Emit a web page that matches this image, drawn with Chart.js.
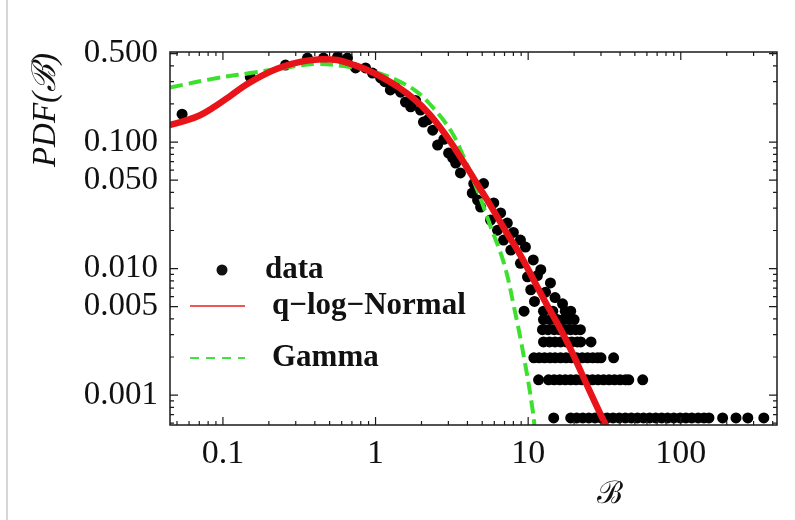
<html>
<head>
    <meta charset="utf-8">
    <title>PDF(B)</title>
    <script src="https://cdn.jsdelivr.net/npm/chart.js"></script>
    <style>
        body { margin: 0; background: #fff; }
        #wrap { position: relative; width: 795px; height: 520px; }
        #edge { position: absolute; left: 6px; top: 0; width: 2px; height: 520px; background: #d6d6d6; }
        #myChart { position: absolute; left: 0; top: 0; }
    </style>
</head>
<body>

<div id="wrap">
    <div id="edge"></div>
    <canvas id="myChart" width="795" height="520"></canvas>
</div>
<script>
    // histogram points
    var dataX = [0.054, 0.151, 0.257, 0.358, 0.456, 0.563, 0.655, 0.74, 0.86, 0.955,
        1.08, 1.15, 1.25, 1.35, 1.46, 1.57, 1.7, 1.83, 1.97, 2.06,
        2.2, 2.37, 2.55, 2.8, 3.01, 3.2, 3.35, 3.6, 4.4, 5.1,
        4.3, 4.66, 5.95, 4.88, 6.6, 5.67, 7.3, 6.3, 8.0, 6.9,
        8.9, 9.6, 7.7, 10.8, 8.9, 12.1, 9.9, 11.5, 14, 10.4,
        13, 15, 11, 16.8, 9.4, 12.6, 14.5, 17.5, 19,
        12.6, 14, 15.5, 17, 18.5, 20,
        12.4, 13.5, 14.8, 16, 17.5, 19, 20.5, 22,
        12.6, 13.8, 15, 16.3, 17.8, 19.3, 21, 22.1, 25.8,
        10.9, 11.8, 12.8, 13.9, 15, 16.3, 17.7, 19.2, 20.8, 22.6, 24.5, 26.5, 28.5, 30, 36.3,
        11.7, 13.6, 14.8, 16.1, 17.5, 19, 20.6, 22.4, 24.3, 26.4, 28.7, 31.2, 33.9, 36.8, 40, 43.5, 45.6, 56.3,
        14.7, 19, 20.8, 22.8, 25, 27.4, 30, 32.9, 36, 39.5, 43.3, 47.4, 52, 57, 62.5, 68.5, 75, 82, 90, 99,
        108, 118, 130, 142, 153, 188, 230, 275, 350];
    var dataY = [0.166, 0.327, 0.406, 0.461, 0.461, 0.47, 0.461, 0.385, 0.385, 0.351,
        0.321, 0.30, 0.258, 0.27, 0.248, 0.207, 0.19, 0.213, 0.179, 0.144,
        0.15, 0.124, 0.0947, 0.105, 0.0818, 0.075, 0.0683, 0.057, 0.047, 0.047,
        0.0395, 0.0348, 0.033, 0.0306, 0.0275, 0.0242, 0.0229, 0.0201, 0.0193, 0.0168,
        0.0168, 0.0148, 0.014, 0.0117, 0.011, 0.0098, 0.0086, 0.0088, 0.0077, 0.0068,
        0.0065, 0.0059, 0.0055, 0.00526, 0.0046, 0.0046, 0.0046, 0.0046, 0.0046,
        0.00395, 0.00395, 0.00395, 0.00395, 0.00395, 0.00395,
        0.00329, 0.00329, 0.00329, 0.00329, 0.00329, 0.00329, 0.00329, 0.00329,
        0.00263, 0.00263, 0.00263, 0.00263, 0.00263, 0.00263, 0.00263, 0.00263, 0.00263,
        0.00197, 0.00197, 0.00197, 0.00197, 0.00197, 0.00197, 0.00197, 0.00197, 0.00197, 0.00197, 0.00197, 0.00197, 0.00197, 0.00197, 0.00197,
        0.00132, 0.00132, 0.00132, 0.00132, 0.00132, 0.00132, 0.00132, 0.00132, 0.00132, 0.00132, 0.00132, 0.00132, 0.00132, 0.00132, 0.00132, 0.00132, 0.00132, 0.00132,
        0.00066, 0.00066, 0.00066, 0.00066, 0.00066, 0.00066, 0.00066, 0.00066, 0.00066, 0.00066, 0.00066, 0.00066, 0.00066, 0.00066, 0.00066, 0.00066, 0.00066, 0.00066, 0.00066, 0.00066,
        0.00066, 0.00066, 0.00066, 0.00066, 0.00066, 0.00066, 0.00066, 0.00066, 0.00066];

    // fitted curves
    var qlnX = [0.0447, 0.0562, 0.0708, 0.0891, 0.112, 0.141, 0.178, 0.224, 0.282, 0.355,
        0.447, 0.562, 0.708, 0.891, 1.12, 1.41, 1.78, 2.24, 2.82, 3.55,
        4.47, 5.62, 7.08, 8.91, 12.6, 17.8, 25.1, 31.6, 36.3];
    var qlnY = [0.136, 0.147, 0.163, 0.192, 0.232, 0.282, 0.332, 0.378, 0.415, 0.44,
        0.452, 0.445, 0.41, 0.37, 0.322, 0.272, 0.22, 0.168, 0.118, 0.078,
        0.05, 0.032, 0.02, 0.0127, 0.0058, 0.0027, 0.0011, 0.00061, 0.00045];
    var gammaX = [0.045, 0.092, 0.151, 0.25, 0.417, 0.685, 0.886, 1.13, 1.46, 1.88,
        2.4, 3.1, 3.61, 4.64, 5.68, 6.94, 8.07, 9.38, 10.7, 11.3];
    var gammaY = [0.27, 0.321, 0.351, 0.385, 0.414, 0.392, 0.37, 0.34, 0.298, 0.248,
        0.185, 0.124, 0.0865, 0.0418, 0.0214, 0.011, 0.005, 0.002, 0.00076, 0.0004];

    var xTicks = [0.1, 1, 10, 100];
    var xTickLabels = ['0.1', '1', '10', '100'];
    var yTicks = [0.5, 0.1, 0.05, 0.01, 0.005, 0.001];
    var yTickLabels = ['0.500', '0.100', '0.050', '0.010', '0.005', '0.001'];
    var xMin = 0.045, xMax = 427, yMin = 0.00058, yMax = 0.515;

    function pairs(xs, ys) {
        return xs.map(function (x, i) { return {x: x, y: ys[i]}; });
    }

    function allTicks(min, max) {
        var out = [];
        for (var e = -5; e <= 4; e++) {
            for (var k = 1; k <= 9; k++) {
                var v = k * Math.pow(10, e);
                if (v > min && v < max) out.push(v);
            }
        }
        return out;
    }

    function findTick(v, list) {
        for (var i = 0; i < list.length; i++) {
            if (Math.abs(Math.log10(v / list[i])) < 1e-6) return i;
        }
        return -1;
    }

    function labelFor(v, list, labels) {
        var i = findTick(v, list);
        return i < 0 ? '' : labels[i];
    }

    var serif = '"Liberation Serif", "Times New Roman", serif';

    const framePlugin = {
        id: 'frame',
        afterDatasetsDraw(chart) {
            var ctx = chart.ctx, a = chart.chartArea;
            var xs = chart.scales.x, ys = chart.scales.y;
            ctx.save();
            ctx.strokeStyle = '#1a1a1a';
            ctx.lineWidth = 1.5;
            ctx.strokeRect(a.left, a.top, a.right - a.left, a.bottom - a.top);
            ctx.lineWidth = 1.2;
            ctx.beginPath();
            xs.ticks.forEach(function (t) {
                var px = xs.getPixelForValue(t.value);
                var len = findTick(t.value, xTicks) >= 0 ? 8 : 4;
                ctx.moveTo(px, a.bottom); ctx.lineTo(px, a.bottom - len);
                ctx.moveTo(px, a.top); ctx.lineTo(px, a.top + len);
            });
            ys.ticks.forEach(function (t) {
                var py = ys.getPixelForValue(t.value);
                var len = findTick(t.value, yTicks) >= 0 ? 8 : 4;
                ctx.moveTo(a.left, py); ctx.lineTo(a.left + len, py);
                ctx.moveTo(a.right, py); ctx.lineTo(a.right - len, py);
            });
            ctx.stroke();
            ctx.restore();
        },
        afterDraw(chart) {
            var ctx = chart.ctx;
            ctx.save();
            ctx.fillStyle = '#111';
            // axis titles
            ctx.textAlign = 'center';
            ctx.textBaseline = 'middle';
            ctx.font = 'italic 33px ' + serif;
            ctx.translate(46, 110);
            ctx.rotate(-Math.PI / 2);
            ctx.fillText('PDF(ℬ)', 0, 0);
            ctx.setTransform(1, 0, 0, 1, 0, 0);
            ctx.font = '31px ' + serif;
            ctx.fillText('ℬ', 610, 495);

            // legend
            ctx.textAlign = 'left';
            ctx.font = 'bold 31px ' + serif;
            ctx.beginPath();
            ctx.arc(222, 270, 5.5, 0, Math.PI * 2);
            ctx.fill();
            ctx.fillText('data', 265, 270);

            ctx.strokeStyle = '#f05656';
            ctx.lineWidth = 2;
            ctx.beginPath();
            ctx.moveTo(190, 306); ctx.lineTo(245, 306);
            ctx.stroke();
            ctx.fillText('q\u2212log\u2212Normal', 272, 306);

            ctx.strokeStyle = '#44e044';
            ctx.setLineDash([9, 7]);
            ctx.beginPath();
            ctx.moveTo(190, 358); ctx.lineTo(245, 358);
            ctx.stroke();
            ctx.setLineDash([]);
            ctx.fillText('Gamma', 272, 358);
            ctx.restore();
        }
    };

    var xAll = allTicks(xMin, xMax);
    var yAll = allTicks(yMin, yMax);

    const config = {
        type: 'scatter',
        data: {
            datasets: [
                {
                    label: 'q\u2212log\u2212Normal',
                    data: pairs(qlnX, qlnY),
                    showLine: true,
                    borderColor: '#e8141a',
                    borderWidth: 6.5,
                    pointRadius: 0,
                    tension: 0.4,
                    order: 0
                },
                {
                    label: 'Gamma',
                    data: pairs(gammaX, gammaY),
                    showLine: true,
                    borderColor: '#3ee030',
                    borderWidth: 4,
                    borderDash: [13, 6],
                    pointRadius: 0,
                    tension: 0.4,
                    order: 1
                },
                {
                    label: 'data',
                    data: pairs(dataX, dataY),
                    showLine: false,
                    pointRadius: 5.5,
                    backgroundColor: '#000',
                    borderWidth: 0,
                    order: 2
                }
            ]
        },
        options: {
            responsive: false,
            animation: false,
            layout: {padding: {top: 52, right: 18, left: 0, bottom: 0}},
            plugins: {
                legend: {display: false},
                tooltip: {enabled: false}
            },
            scales: {
                x: {
                    type: 'logarithmic',
                    min: xMin,
                    max: xMax,
                    afterBuildTicks: function (s) { s.ticks = xAll.map(function (v) { return {value: v}; }); },
                    afterFit: function (s) { s.height = 95; },
                    grid: {display: false, drawTicks: false},
                    border: {display: false},
                    ticks: {
                        autoSkip: false, maxRotation: 0, minRotation: 0, padding: 12,
                        color: '#111',
                        font: {family: serif, size: 34, lineHeight: 1},
                        callback: function (v) { return labelFor(v, xTicks, xTickLabels); }
                    }
                },
                y: {
                    type: 'logarithmic',
                    min: yMin,
                    max: yMax,
                    afterBuildTicks: function (s) { s.ticks = yAll.map(function (v) { return {value: v}; }); },
                    afterFit: function (s) { s.width = 170; },
                    grid: {display: false, drawTicks: false},
                    border: {display: false},
                    ticks: {
                        autoSkip: false, padding: 12,
                        color: '#111',
                        font: {family: serif, size: 33, lineHeight: 1},
                        callback: function (v) { return labelFor(v, yTicks, yTickLabels); }
                    }
                }
            }
        },
        plugins: [framePlugin]
    };

    const myChart = new Chart(document.getElementById('myChart'), config);
</script>

</body>
</html>
